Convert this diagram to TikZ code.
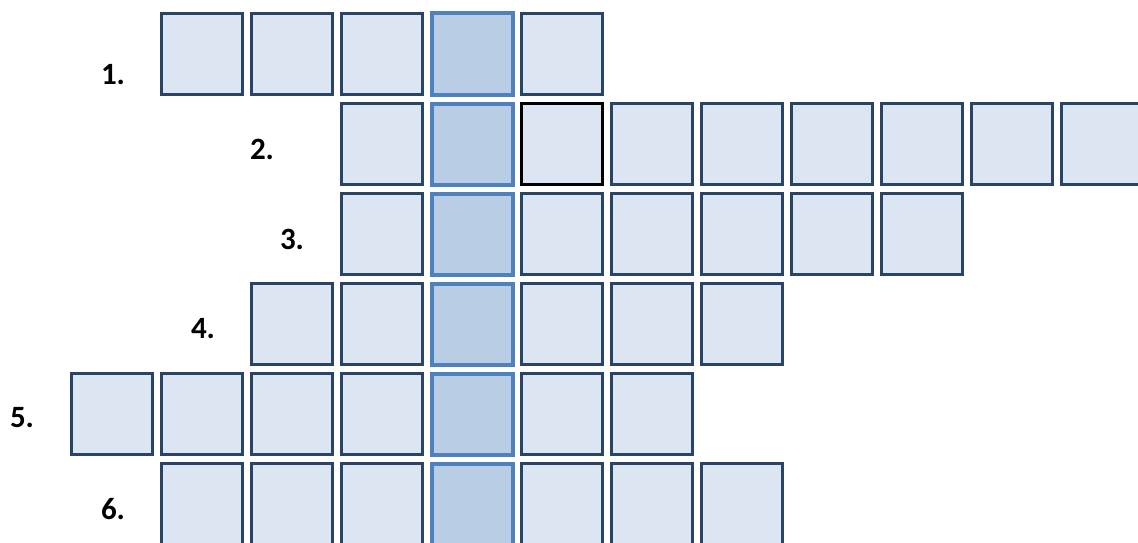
\documentclass[tikz,border=0pt]{standalone}
\usepackage{fontspec}
\setmainfont{Carlito}
\usepackage{tikz}
\definecolor{cellfill}{HTML}{DCE6F2}
\definecolor{celldraw}{HTML}{2A4466}
\definecolor{keyfill}{HTML}{B9CDE5}
\definecolor{keydraw}{HTML}{4F81BD}

\tikzset{
    cell/.style={draw=celldraw,fill=cellfill,line width=2.6pt,minimum size=81.5pt,inner sep=0pt},
    keycell/.style={draw=keydraw,fill=keyfill,line width=4pt,minimum size=81pt,inner sep=0pt},
    oddcell/.style={draw=black,fill=cellfill,line width=2.6pt,minimum size=81.5pt,inner sep=0pt},
    num/.style={font=\fontsize{31}{36}\selectfont\bfseries}
}

\begin{document}
\begin{tikzpicture}[x=1pt,y=-1pt]
    \useasboundingbox (0,0) rectangle (1138,543);
    \clip (0,0) rectangle (1138,543);
    % rows of cells, column 4 is the key column
    \foreach \r/\first/\last in {1/1/5,2/3/11,3/3/9,4/2/7,5/0/6,6/1/7}{
        \foreach \c in {\first,...,\last}{
            \ifnum\c=4 \def\sty{keycell}\else\def\sty{cell}\fi
            \ifnum\r=2 \ifnum\c=5 \def\sty{oddcell}\fi\fi
            \node[\sty] (b\r-\c) at ({112+90*\c},{90*\r-36}) {};
        }
    }
    \node[num] (l1) at (113,75) {1.};
    \node[num] (l2) at (262,149) {2.};
    \node[num] (l3) at (292,239) {3.};
    \node[num] (l4) at (203,329) {4.};
    \node[num] (l5) at (22,418) {5.};
    \node[num] (l6) at (113,509) {6.};
\end{tikzpicture}
\end{document}
